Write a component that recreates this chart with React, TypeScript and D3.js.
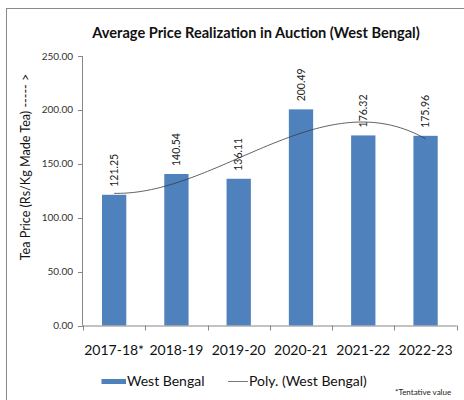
import React from "react";
import * as d3 from "d3";

const categories = ["2017-18*", "2018-19", "2019-20", "2020-21", "2021-22", "2022-23"];
const values = [121.25, 140.54, 136.11, 200.49, 176.32, 175.96];
const valueLabels = ["121.25", "140.54", "136.11", "200.49", "176.32", "175.96"];
const yTicks = [0, 50, 100, 150, 200, 250];

const W = 464;
const H = 400;
const FONT = "Lato, 'Open Sans', sans-serif";
const BAR = "#4F81BD";
const AXIS = "#868686";

// least squares polynomial fit (Excel "Poly." trendline, order 3)
function polyFit(xs: number[], ys: number[], order: number): number[] {
  const n = order + 1;
  const A: number[][] = [];
  for (let i = 0; i < n; i++) {
    A.push([]);
    for (let j = 0; j < n; j++) {
      let s = 0;
      xs.forEach((x) => (s += Math.pow(x, i + j)));
      A[i].push(s);
    }
    let s = 0;
    xs.forEach((x, k) => (s += ys[k] * Math.pow(x, i)));
    A[i].push(s);
  }
  for (let i = 0; i < n; i++) {
    let p = i;
    for (let r = i + 1; r < n; r++) if (Math.abs(A[r][i]) > Math.abs(A[p][i])) p = r;
    [A[i], A[p]] = [A[p], A[i]];
    for (let r = 0; r < n; r++) {
      if (r === i) continue;
      const f = A[r][i] / A[i][i];
      for (let c = i; c <= n; c++) A[r][c] -= f * A[i][c];
    }
  }
  return A.map((row, i) => row[n] / row[i]);
}

export default function App() {
  const left = 83;
  const right = 456.7;
  const top = 56;
  const bottom = 325.5;

  const x = d3.scaleBand<string>().domain(categories).range([left, right]).padding(0);
  const y = d3.scaleLinear().domain([0, 250]).range([bottom, top]);
  const bw = x.bandwidth();
  const barW = bw * 0.39;

  const xs = categories.map((_, i) => i + 1);
  const coef = polyFit(xs, values, 3);
  const poly = (t: number) => coef.reduce((s, c, i) => s + c * Math.pow(t, i), 0);
  const idxToX = (t: number) => left + (t - 0.5) * bw;
  const samples = d3.range(1, 6.001, 0.05);
  const line = d3
    .line<number>()
    .x((t) => idxToX(t))
    .y((t) => y(poly(t)))
    .curve(d3.curveLinear);

  return (
    <svg width={W} height={H} style={{ position: "absolute", left: 0, top: 0 }} fontFamily={FONT}>
      <rect x={0} y={0} width={W} height={H} fill="#fff" />
      <rect x={6.5} y={8.5} width={W} height={H} fill="none" stroke="#8a8a8a" strokeWidth={1} />
      <text x={256} y={38} textAnchor="middle" fontSize={14.6} fontWeight="bold" fill="#111">
        Average Price Realization in Auction (West Bengal)
      </text>

      {/* y axis */}
      <line x1={left - 0.5} x2={left - 0.5} y1={top} y2={bottom} stroke={AXIS} />
      {yTicks.map((t) => (
        <g key={t}>
          <line x1={left - 5} x2={left} y1={Math.round(y(t)) + 0.5} y2={Math.round(y(t)) + 0.5} stroke={AXIS} />
          <text x={73} y={y(t)} dy="0.35em" textAnchor="end" fontSize={10} fill="#333">
            {t.toFixed(2)}
          </text>
        </g>
      ))}
      <text
        transform={`translate(26,${167}) rotate(-90)`}
        textAnchor="middle"
        dy="0.35em"
        fontSize={12.6}
        fill="#111"
      >
        Tea Price (Rs/Kg Made Tea) ----- &gt;
      </text>

      {/* bars */}
      {categories.map((c, i) => {
        const cx = (x(c) as number) + bw / 2;
        return (
          <g key={c}>
            <rect x={cx - barW / 2} y={y(values[i])} width={barW} height={bottom - y(values[i])} fill={BAR} />
            <text
              transform={`translate(${cx},${y(values[i]) - 8}) rotate(-90)`}
              dy="0.35em"
              fontSize={10.5}
              fill="#222"
            >
              {valueLabels[i]}
            </text>
          </g>
        );
      })}

      {/* x axis */}
      <line x1={left - 0.5} x2={right} y1={bottom + 0.5} y2={bottom + 0.5} stroke={AXIS} />
      {categories.concat([""]).map((c, i) => {
        const tx = Math.round(left + i * bw) + 0.5;
        return <line key={i} x1={tx} x2={tx} y1={bottom} y2={bottom + 5} stroke={AXIS} />;
      })}
      {categories.map((c) => (
        <text key={c} x={(x(c) as number) + bw / 2} y={355} textAnchor="middle" fontSize={14} fill="#111">
          {c}
        </text>
      ))}

      {/* trendline */}
      <path d={line(samples) || ""} fill="none" stroke="#3a3a3a" strokeWidth={0.8} />

      {/* legend */}
      <rect x={101.5} y={379} width={24.5} height={5} fill={BAR} />
      <text x={127} y={386} fontSize={14} fill="#111">West Bengal</text>
      <line x1={228} x2={248} y1={381.5} y2={381.5} stroke="#555" strokeWidth={0.8} />
      <text x={249} y={386} fontSize={14} fill="#111">Poly. (West Bengal)</text>
      <text x={395} y={395} fontSize={8} fill="#222">*Tentative value</text>
    </svg>
  );
}
